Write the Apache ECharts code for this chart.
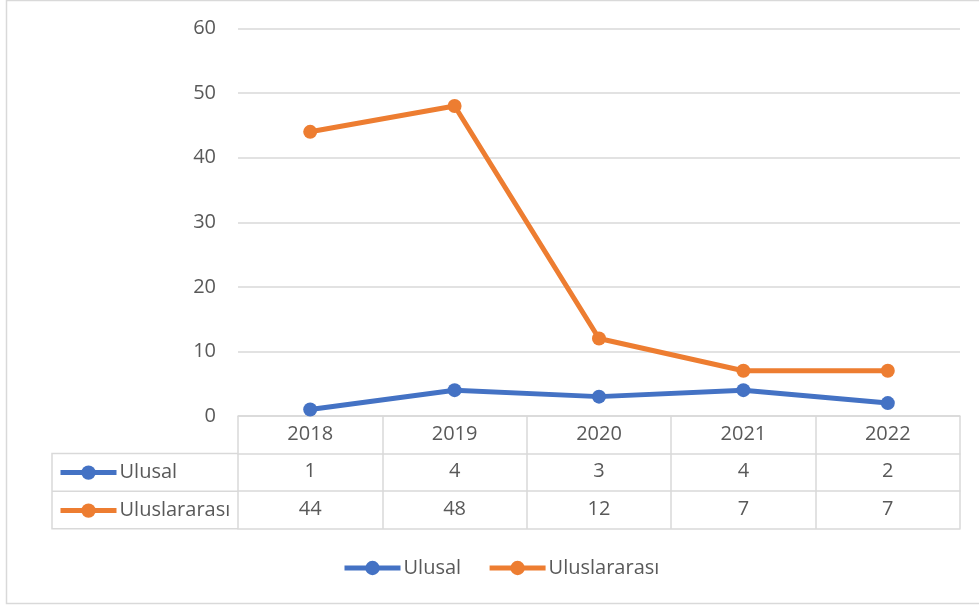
<!DOCTYPE html>
<html>
<head>
<meta charset="utf-8">
<script src="https://cdn.jsdelivr.net/npm/echarts@6/dist/echarts.min.js"></script>
<style>
html, body { margin: 0; padding: 0; background: #fff; }
#chart { width: 979px; height: 607px; }
</style>
</head>
<body>
<div id="chart"></div>
<script>
// veriler
var years = ['2018', '2019', '2020', '2021', '2022'];
var ulusal = [1, 4, 3, 4, 2];
var uluslararasi = [44, 48, 12, 7, 7];
var seriesNames = ['Ulusal', 'Uluslararası'];
var yTicks = [0, 10, 20, 30, 40, 50, 60];

var textColor = '#595959';
var gridColor = '#d9d9d9';
var fontFam = 'Open Sans, Liberation Sans, sans-serif';
var fs = 20;

// yerlesim
var plotLeft = 238, plotRight = 960, plotTop = 28.5, plotBottom = 416;
var rowH = 37.6;
var tableLeft = 52;

var chart = echarts.init(document.getElementById('chart'));

function valueAxis(data, idx) {
	return {
		type: 'category',
		data: data,
		position: 'bottom',
		offset: rowH * idx,
		boundaryGap: true,
		axisLine: { show: true, lineStyle: { color: gridColor, width: 1.5 } },
		axisTick: { show: false },
		axisLabel: { show: data.length > 0, color: textColor, fontSize: fs, fontFamily: fontFam, margin: 8, interval: 0 },
		splitLine: { show: false }
	};
}

var x0 = valueAxis(years, 0);
x0.axisTick = { show: true, interval: 0, length: rowH * 3, lineStyle: { color: gridColor, width: 1.5 } };

var legendText = { color: textColor, fontSize: fs, fontFamily: fontFam, padding: [0, 0, 0, -2] };

var option = {
	backgroundColor: '#fff',
	animation: false,
	grid: { left: plotLeft, right: 979 - plotRight, top: plotTop, bottom: 607 - plotBottom },
	legend: [{
		data: seriesNames,
		bottom: 29,
		left: 342,
		padding: 0,
		itemWidth: 56,
		itemHeight: 18,
		itemGap: 26,
		lineStyle: { width: 5 },
		textStyle: legendText
	}, {
		data: seriesNames,
		orient: 'vertical',
		left: 58,
		top: plotBottom + rowH + 9,
		itemWidth: 56,
		itemHeight: 18,
		itemGap: 18,
		padding: 0,
		selectedMode: false,
		lineStyle: { width: 5 },
		textStyle: legendText
	}],
	xAxis: [
		x0,
		valueAxis(ulusal, 1),
		valueAxis(uluslararasi, 2),
		valueAxis([], 3)
	],
	yAxis: {
		type: 'value',
		min: 0,
		max: 60,
		interval: 10,
		axisLine: { show: false },
		axisTick: { show: false },
		axisLabel: { color: textColor, fontSize: fs, fontFamily: fontFam, margin: 22 },
		splitLine: { lineStyle: { color: gridColor, width: 1.5 } }
	},
	series: [{
		name: seriesNames[0],
		type: 'line',
		data: ulusal,
		color: '#4472C4',
		symbol: 'circle',
		symbolSize: 14,
		lineStyle: { width: 5 }
	}, {
		name: seriesNames[1],
		type: 'line',
		data: uluslararasi,
		color: '#ED7D31',
		symbol: 'circle',
		symbolSize: 14,
		lineStyle: { width: 5 }
	}],
	graphic: [{
		type: 'rect',
		shape: { x: 6.5, y: 0.5, width: 1000, height: 603 },
		style: { fill: 'none', stroke: gridColor, lineWidth: 1.5 },
		silent: true
	}, {
		type: 'polyline',
		shape: { points: [
			[plotLeft, plotBottom + rowH],
			[tableLeft, plotBottom + rowH],
			[tableLeft, plotBottom + rowH * 3],
			[plotLeft, plotBottom + rowH * 3]
		] },
		style: { fill: 'none', stroke: gridColor, lineWidth: 1.5 },
		silent: true
	}, {
		type: 'line',
		shape: { x1: tableLeft, y1: plotBottom + rowH * 2, x2: plotLeft, y2: plotBottom + rowH * 2 },
		style: { stroke: gridColor, lineWidth: 1.5 },
		silent: true
	}]
};

chart.setOption(option);
</script>
</body>
</html>
